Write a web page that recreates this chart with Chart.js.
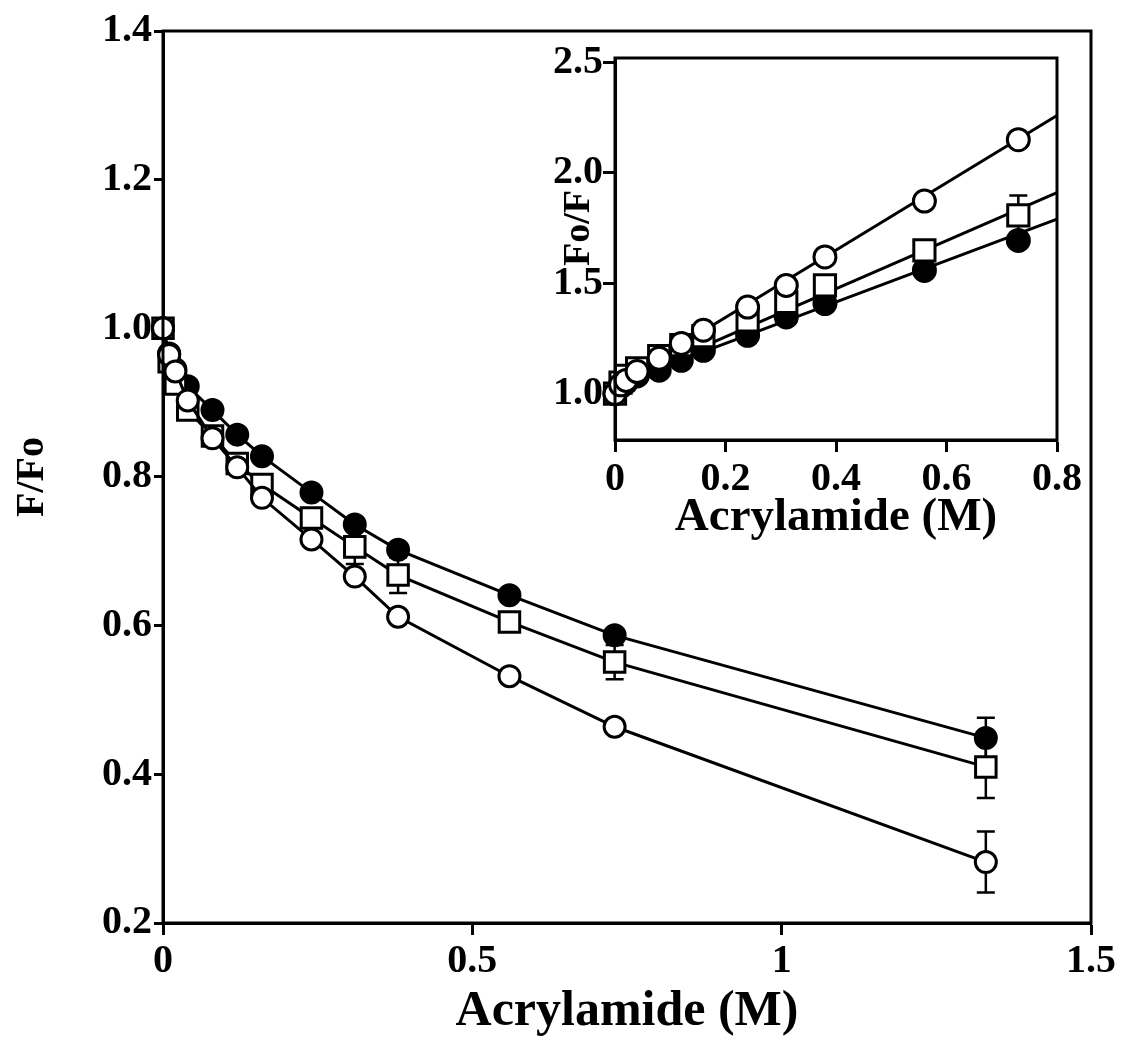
<!DOCTYPE html>
<html>
<head>
<meta charset="utf-8">
<title>Acrylamide quenching</title>
<script src="https://cdn.jsdelivr.net/npm/chart.js@4.4.0/dist/chart.umd.min.js"></script>
<style>
  html, body { margin: 0; padding: 0; background: #fff; }
  #wrap { position: relative; width: 1124px; height: 1057px; }
  #main { position: absolute; left: 0; top: 0; }
  #inset { position: absolute; left: 540px; top: 20px; }
</style>
</head>
<body>
<div id="wrap">
  <canvas id="main" width="1124" height="1057"></canvas>
  <canvas id="inset" width="560" height="530"></canvas>
</div>
<script>
// main panel: F/Fo vs acrylamide
const conc = [0, 0.01, 0.02, 0.04, 0.08, 0.12, 0.16, 0.24, 0.31, 0.38, 0.56, 0.73, 1.33];
const ratioOpen   = [1.0, 0.964, 0.942, 0.903, 0.852, 0.813, 0.772, 0.716, 0.666, 0.612, 0.532, 0.464, 0.282];
const ratioSquare = [1.0, 0.955, 0.925, 0.89, 0.855, 0.818, 0.79, 0.745, 0.706, 0.668, 0.605, 0.551, 0.41];
const ratioFilled = [1.0, 0.966, 0.945, 0.922, 0.89, 0.857, 0.828, 0.779, 0.736, 0.702, 0.641, 0.587, 0.449];
const errOpen   = [0, 0, 0, 0, 0, 0, 0, 0, 0, 0, 0, 0, 0.041];
const errSquare = [0, 0, 0, 0, 0, 0, 0, 0, 0.023, 0.024, 0, 0.023, 0.042];
const errFilled = [0, 0, 0, 0, 0, 0, 0, 0, 0, 0, 0, 0, 0.027];
const mainXTicks = [0, 0.5, 1, 1.5];
const mainYTicks = [0.2, 0.4, 0.6, 0.8, 1.0, 1.2, 1.4];

// inset: Stern-Volmer plot Fo/F
const insetConc = [0, 0.01, 0.02, 0.04, 0.08, 0.12, 0.16, 0.24, 0.31, 0.38, 0.56, 0.73];
const quenchOpen   = [1.0, 1.04, 1.06, 1.10, 1.16, 1.227, 1.287, 1.392, 1.49, 1.619, 1.872, 2.15];
const quenchSquare = [1.0, 1.05, 1.08, 1.114, 1.17, 1.22, 1.26, 1.332, 1.415, 1.49, 1.649, 1.807];
const quenchFilled = [1.0, 1.03, 1.05, 1.08, 1.106, 1.151, 1.196, 1.264, 1.347, 1.408, 1.558, 1.694];
const errInsetSquare = [0, 0, 0, 0, 0, 0, 0, 0, 0, 0, 0, 0.09];
const fitX = [0, 0.8];
const fitOpen = [1.04, 2.26];
const fitSquare = [1.04, 1.91];
const fitFilled = [1.04, 1.79];
const insetXTicks = [0, 0.2, 0.4, 0.6, 0.8];
const insetYTicks = [1.0, 1.5, 2.0, 2.5];

const FONT = 'Liberation Serif, Times New Roman, serif';
const pts = (xs, ys) => xs.map((x, i) => ({x: x, y: ys[i]}));

// error bars go under the markers, box frame over everything
const framePlugin = {
  id: 'frameAndErrors',
  beforeDatasetsDraw(chart) {
    const {ctx} = chart;
    const x = chart.scales.x, y = chart.scales.y;
    ctx.save();
    ctx.strokeStyle = '#000';
    ctx.lineWidth = 2.5;
    chart.data.datasets.forEach(ds => {
      if (!ds.errors) return;
      ds.data.forEach((p, i) => {
        const e = ds.errors[i];
        if (!e) return;
        const px = x.getPixelForValue(p.x);
        const lo = y.getPixelForValue(p.y - e), hi = y.getPixelForValue(p.y + e);
        ctx.beginPath();
        ctx.moveTo(px, lo); ctx.lineTo(px, hi);
        ctx.moveTo(px - 9, lo); ctx.lineTo(px + 9, lo);
        ctx.moveTo(px - 9, hi); ctx.lineTo(px + 9, hi);
        ctx.stroke();
      });
    });
    ctx.restore();
  },
  afterDraw(chart) {
    const {ctx, chartArea: a} = chart;
    ctx.save();
    ctx.strokeStyle = '#000';
    ctx.lineWidth = 3;
    ctx.strokeRect(a.left, a.top, a.right - a.left, a.bottom - a.top);
    const t = chart.options.plugins.sideTitle;
    if (t && t.text) {
      ctx.translate(t.x, t.y);
      ctx.rotate(-Math.PI / 2);
      ctx.fillStyle = '#000';
      ctx.font = 'bold ' + t.size + 'px ' + FONT;
      ctx.textAlign = 'center';
      ctx.textBaseline = 'middle';
      ctx.fillText(t.text, 0, 0);
    }
    ctx.restore();
  }
};

function series(data, style, filled, radius, errors) {
  return {
    data: data,
    showLine: true,
    borderColor: '#000',
    borderWidth: 3,
    pointStyle: style,
    pointRadius: radius,
    pointBorderWidth: 3,
    pointBackgroundColor: filled ? '#000' : '#fff',
    pointBorderColor: '#000',
    errors: errors,
    clip: false
  };
}

function axisStyle(size, tickLen) {
  return {
    grid: { drawOnChartArea: false, drawTicks: true, tickLength: tickLen, tickWidth: 3, tickColor: '#000' },
    border: { display: true, color: '#000', width: 3 },
    ticks: { color: '#000', font: { family: FONT, size: size, weight: 'bold' }, maxRotation: 0, autoSkip: false }
  };
}

const mx = axisStyle(40, 12), my = axisStyle(40, 9);
new Chart(document.getElementById('main'), {
  type: 'scatter',
  data: {
    datasets: [
      series(pts(conc, ratioOpen), 'circle', false, 10.5, errOpen),
      series(pts(conc, ratioSquare), 'rect', false, 14.5, errSquare),
      series(pts(conc, ratioFilled), 'circle', true, 10.5, errFilled)
    ]
  },
  options: {
    responsive: false,
    animation: false,
    layout: { padding: { left: 0, top: 31, right: 33, bottom: 0 } },
    plugins: { legend: { display: false }, tooltip: { enabled: false } },
    scales: {
      x: {
        type: 'linear', min: 0, max: 1.5,
        afterBuildTicks: s => { s.ticks = mainXTicks.map(v => ({value: v})); },
        afterFit: s => { s.height = 134; },
        grid: mx.grid, border: mx.border,
        ticks: Object.assign({}, mx.ticks, { padding: 3, callback: v => String(v) }),
        title: { display: true, text: 'Acrylamide (M)', color: '#000',
                 font: { family: FONT, size: 50, weight: 'bold', lineHeight: 1 },
                 padding: { top: 0, bottom: 20 } }
      },
      y: {
        type: 'linear', min: 0.2, max: 1.4,
        afterBuildTicks: s => { s.ticks = mainYTicks.map(v => ({value: v})); },
        afterFit: s => { s.width = 163; },
        grid: my.grid, border: my.border,
        ticks: Object.assign({}, my.ticks, { padding: 2, callback: v => v.toFixed(1) }),
        title: { display: true, text: 'F/Fo', color: '#000',
                 font: { family: FONT, size: 40, weight: 'bold', lineHeight: 1 },
                 padding: { top: 13, bottom: 0 } }
      }
    }
  },
  plugins: [framePlugin]
});

const ix = axisStyle(40, 12), iy = axisStyle(40, 12);
new Chart(document.getElementById('inset'), {
  type: 'scatter',
  data: {
    datasets: [
      series(pts(insetConc, quenchOpen), 'circle', false, 11, null),
      series(pts(insetConc, quenchSquare), 'rect', false, 15, errInsetSquare),
      series(pts(insetConc, quenchFilled), 'circle', true, 11, null),
      Object.assign(series(pts(fitX, fitOpen), 'circle', false, 0, null), { order: 1 }),
      Object.assign(series(pts(fitX, fitSquare), 'circle', false, 0, null), { order: 1 }),
      Object.assign(series(pts(fitX, fitFilled), 'circle', false, 0, null), { order: 1 })
    ].map((d, i) => i < 3 ? Object.assign(d, { showLine: false }) : d)
  },
  options: {
    responsive: false,
    animation: false,
    layout: { padding: { left: 0, top: 38, right: 43, bottom: 0 } },
    plugins: {
      legend: { display: false }, tooltip: { enabled: false },
      sideTitle: { text: 'Fo/F', x: 39, y: 208, size: 38 }
    },
    scales: {
      x: {
        type: 'linear', min: 0, max: 0.8,
        afterBuildTicks: s => { s.ticks = insetXTicks.map(v => ({value: v})); },
        afterFit: s => { s.height = 110; },
        grid: ix.grid, border: ix.border,
        ticks: Object.assign({}, ix.ticks, { padding: 4, callback: v => String(v) }),
        title: { display: true, text: 'Acrylamide (M)', color: '#000',
                 font: { family: FONT, size: 47, weight: 'bold', lineHeight: 1 },
                 padding: { top: 0, bottom: 9 } }
      },
      y: {
        type: 'linear', min: 0.79, max: 2.52,
        afterBuildTicks: s => { s.ticks = insetYTicks.map(v => ({value: v})); },
        afterFit: s => { s.width = 75; },
        grid: iy.grid, border: iy.border,
        ticks: Object.assign({}, iy.ticks, { padding: 0, callback: v => v.toFixed(1) })
      }
    }
  },
  plugins: [framePlugin]
});
</script>
</body>
</html>
